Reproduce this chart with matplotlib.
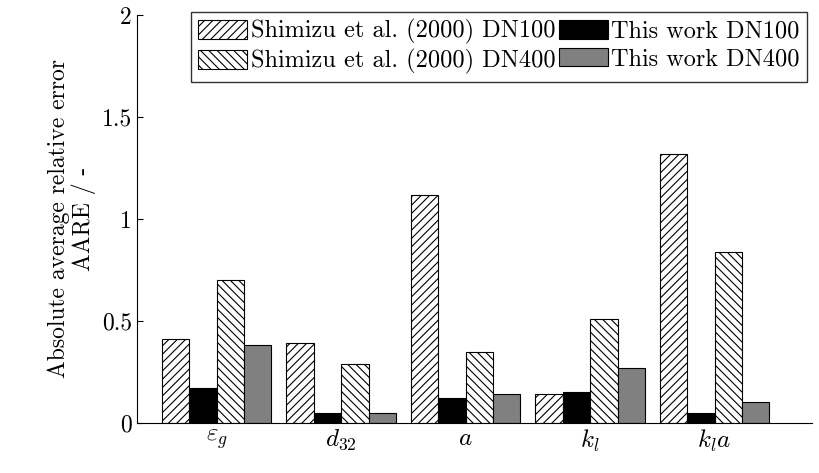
import numpy as np
import matplotlib.pyplot as plt

plt.rcParams['font.family'] = 'cmr10'
plt.rcParams['mathtext.fontset'] = 'cm'
plt.rcParams['axes.formatter.use_mathtext'] = True
plt.rcParams['hatch.linewidth'] = 0.8

categories = [r'$\varepsilon_g$', r'$d_{32}$', r'$a$', r'$k_l$', r'$k_la$']
shimizu_dn100 = [0.41, 0.39, 1.12, 0.14, 1.32]
this_dn100 = [0.17, 0.05, 0.12, 0.15, 0.05]
shimizu_dn400 = [0.70, 0.29, 0.35, 0.51, 0.84]
this_dn400 = [0.38, 0.05, 0.14, 0.27, 0.10]

fig = plt.figure(figsize=(8.2, 4.73), dpi=100)
ax = fig.add_axes([0.167, 0.106, 0.823, 0.862])

x = np.arange(len(categories))
w = 0.22
ax.bar(x - 1.5 * w, shimizu_dn100, w, facecolor='white', edgecolor='black', hatch='////', lw=0.8,
       label='Shimizu et al. (2000) DN100')
ax.bar(x - 0.5 * w, this_dn100, w, color='black', edgecolor='black', lw=0.8, label='This work DN100')
ax.bar(x + 0.5 * w, shimizu_dn400, w, facecolor='white', edgecolor='black', hatch='\\\\\\\\', lw=0.8,
       label='Shimizu et al. (2000) DN400')
ax.bar(x + 1.5 * w, this_dn400, w, color='#808080', edgecolor='black', lw=0.8, label='This work DN400')

ax.set_xlim(-0.64, 4.78)
ax.set_ylim(0, 2)
ax.set_xticks(x)
ax.set_xticklabels(categories, fontsize=18)
ax.set_yticks([0, 0.5, 1, 1.5, 2])
ax.set_yticklabels(['0', '0.5', '1', '1.5', '2'], fontsize=17)
ax.tick_params(direction='in', length=4)
ax.spines['top'].set_visible(False)
ax.spines['right'].set_visible(False)
ax.set_ylabel('Absolute average relative error\nAARE / -', fontsize=17, linespacing=1.1)

h, l = ax.get_legend_handles_labels()
order = [0, 2, 1, 3]
ax.legend([h[i] for i in order], [l[i] for i in order], ncol=2, loc='upper right',
          bbox_to_anchor=(1.0, 1.02), fontsize=17.5, fancybox=False, edgecolor='black',
          handlelength=2.0, handleheight=0.8, handletextpad=0.15, columnspacing=0.15,
          borderaxespad=0.2, labelspacing=0.2, borderpad=0.3)

fig.savefig('out.png')
